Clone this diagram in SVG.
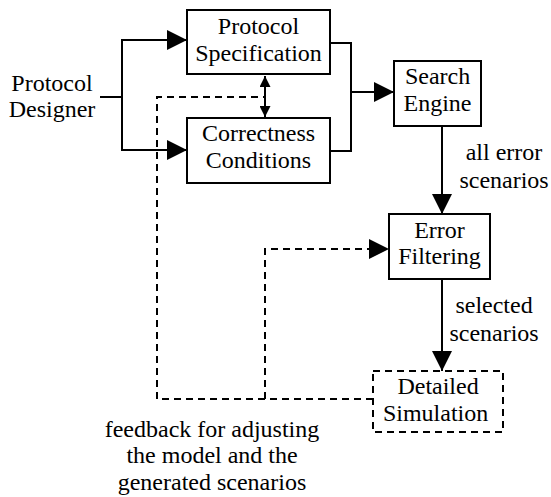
<svg xmlns="http://www.w3.org/2000/svg" width="551" height="497" viewBox="0 0 551 497">
  <defs>
    <marker id="arrow" markerUnits="userSpaceOnUse" markerWidth="20" markerHeight="20" refX="20" refY="10" orient="auto">
      <path d="M0,0 L20,10 L0,20 Z" fill="#000"/>
    </marker>
    <marker id="tip" markerUnits="userSpaceOnUse" markerWidth="11" markerHeight="11" refX="11" refY="5.5" orient="auto-start-reverse">
      <path d="M0,0 L11,5.5 L0,11 Z" fill="#000"/>
    </marker>
  </defs>

  <g id="connectors" fill="none" stroke="#000" stroke-width="2">
    <!-- designer fan-out -->
    <polyline points="100,97 122,97"/>
    <polyline points="122,97 122,40 187,40" marker-end="url(#arrow)"/>
    <polyline points="122,97 122,150 187,150" marker-end="url(#arrow)"/>
    <!-- spec <-> conditions -->
    <line x1="265" y1="76" x2="265" y2="117" marker-start="url(#tip)" marker-end="url(#tip)"/>
    <!-- merge into search engine -->
    <polyline points="330,43 351,43 351,151 330,151"/>
    <line x1="351" y1="92" x2="394" y2="92" marker-end="url(#arrow)"/>
    <!-- search engine to error filtering -->
    <line x1="442" y1="126" x2="442" y2="214" marker-end="url(#arrow)"/>
    <!-- error filtering to detailed simulation -->
    <line x1="442" y1="279" x2="442" y2="371" marker-end="url(#arrow)"/>
    <!-- feedback loops -->
    <polyline stroke-dasharray="7 5" points="373,399 157,399 157,97 265,97"/>
    <polyline stroke-dasharray="7 5" points="265,399 265,249 389,249" marker-end="url(#arrow)"/>
  </g>

  <!-- labels are left-anchored; x = centre minus half the Times-metric width -->
  <g id="designer">
    <text font-family="Liberation Serif" font-size="24" x="11.3" y="91">Protocol</text>
    <text font-family="Liberation Serif" font-size="24" x="8.7" y="117">Designer</text>
  </g>

  <g id="spec">
    <rect x="187" y="10" width="143" height="64" fill="#fff" stroke="#000" stroke-width="2"/>
    <text font-family="Liberation Serif" font-size="24" x="217.8" y="34">Protocol</text>
    <text font-family="Liberation Serif" font-size="24" x="195.2" y="61">Specification</text>
  </g>

  <g id="conditions">
    <rect x="187" y="118" width="143" height="65" fill="#fff" stroke="#000" stroke-width="2"/>
    <text font-family="Liberation Serif" font-size="24" x="201.9" y="141">Correctness</text>
    <text font-family="Liberation Serif" font-size="24" x="205.8" y="168">Conditions</text>
  </g>

  <g id="search">
    <rect x="394" y="61" width="87" height="65" fill="#fff" stroke="#000" stroke-width="2"/>
    <text font-family="Liberation Serif" font-size="24" x="404.9" y="84">Search</text>
    <text font-family="Liberation Serif" font-size="24" x="403.5" y="111">Engine</text>
  </g>

  <g id="all-errors-label">
    <text font-family="Liberation Serif" font-size="24" x="465.7" y="160">all error</text>
    <text font-family="Liberation Serif" font-size="24" x="459.4" y="188">scenarios</text>
  </g>

  <g id="filtering">
    <rect x="389" y="214" width="101" height="65" fill="#fff" stroke="#000" stroke-width="2"/>
    <text font-family="Liberation Serif" font-size="24" x="414.2" y="238">Error</text>
    <text font-family="Liberation Serif" font-size="24" x="398.2" y="264">Filtering</text>
  </g>

  <g id="selected-label">
    <text font-family="Liberation Serif" font-size="24" x="455.4" y="313">selected</text>
    <text font-family="Liberation Serif" font-size="24" x="449.4" y="341">scenarios</text>
  </g>

  <g id="simulation">
    <rect x="373" y="371" width="130" height="61" fill="#fff" stroke="#000" stroke-width="2" stroke-dasharray="7 5"/>
    <text font-family="Liberation Serif" font-size="24" x="397.4" y="394">Detailed</text>
    <text font-family="Liberation Serif" font-size="24" x="382.9" y="421">Simulation</text>
  </g>

  <g id="feedback-label">
    <text font-family="Liberation Serif" font-size="24" x="104.7" y="437">feedback for adjusting</text>
    <text font-family="Liberation Serif" font-size="24" x="126.4" y="463">the model and the</text>
    <text font-family="Liberation Serif" font-size="24" x="117.7" y="490">generated scenarios</text>
  </g>
</svg>
